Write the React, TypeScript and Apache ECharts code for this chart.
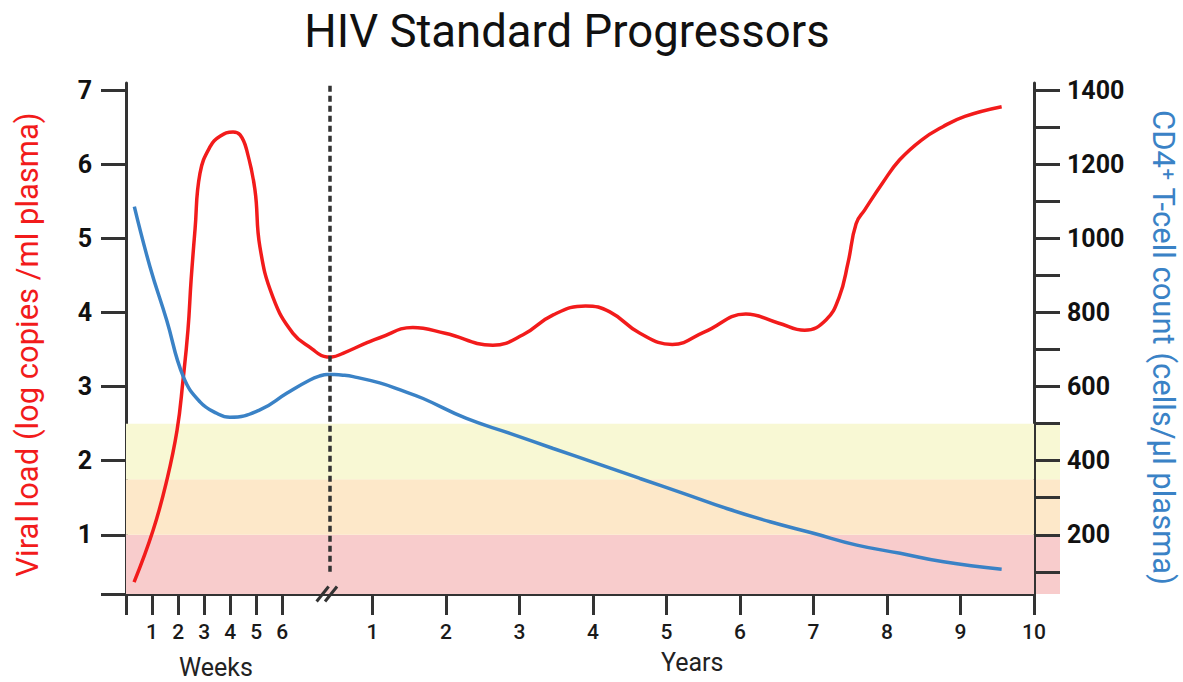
import React, { useEffect, useRef } from "react";
import * as echarts from "echarts";

// ---- texts ----
const TITLE = "HIV Standard Progressors";
const LEFT_NAME = "Viral load (log copies /ml plasma)";
const RIGHT_NAME = "CD4\u207A T-cell count (cells/\u00B5l plasma)";
const WEEKS_NAME = "Weeks";
const YEARS_NAME = "Years";

// ---- ticks ----
const weekTicks = [0, 1, 2, 3, 4, 5, 6];
const weekLabels = [1, 2, 3, 4, 5, 6];
const yearTicks = [1, 2, 3, 4, 5, 6, 7, 8, 9, 10];
const viralTicks = [0.2, 1, 2, 3, 4, 5, 6, 7];
const viralLabels = [1, 2, 3, 4, 5, 6, 7];
const cd4Ticks = [100, 200, 300, 400, 500, 600, 700, 800, 900, 1000, 1100, 1200, 1300, 1400];
const cd4Labels = [200, 400, 600, 800, 1000, 1200, 1400];

// ---- axis domains ----
const VIRAL_MIN = 0.2;
const VIRAL_MAX = 7.1;
const CD4_MIN = 40;
const CD4_MAX = 1420;
const WEEK_MIN = 0;
const WEEK_MAX = 34.86;
const YEAR_MIN = -2.351;
const YEAR_MAX = 10;

// transition (acute -> chronic), in weeks
const TRANSITION_WEEK = 7.81;
const BREAK_WEEK = 7.71;

// ---- viral load (log copies/ml), weeks part: [week, value] ----
const viralWeeks: [number, number][] = [
  [0.31, 0.36], [1.04, 1.06], [1.57, 1.74], [1.96, 2.41], [2.19, 3.09],
  [2.38, 3.77], [2.5, 4.44], [2.65, 5.12], [2.84, 5.88], [3.23, 6.24],
  [3.61, 6.38], [4.11, 6.44], [4.38, 6.4], [4.63, 6.2], [4.95, 5.66],
  [5.14, 4.89], [5.64, 4.21], [6.41, 3.72], [7.18, 3.5], [7.5, 3.42],
  [7.72, 3.401], [7.83, 3.4],
];
// viral load, years part: [year, value]
const viralYears: [number, number][] = [
  [0.424, 3.4], [0.45, 3.401], [0.6, 3.45], [0.92, 3.59], [1.1, 3.66],
  [1.55, 3.8], [1.99, 3.72], [2.64, 3.56], [3.05, 3.7], [3.46, 3.97], [3.9, 4.09],
  [4.23, 4.01], [4.64, 3.72], [5.08, 3.57], [5.52, 3.74], [6.08, 3.98], [6.52, 3.86],
  [6.88, 3.76], [7.17, 3.9], [7.35, 4.21], [7.47, 4.67], [7.58, 5.2],
  [7.7, 5.39], [7.94, 5.75], [8.17, 6.06], [8.47, 6.33], [8.76, 6.51],
  [9.06, 6.65], [9.56, 6.78],
];
// CD4 count (cells/µl), weeks part
const cd4Weeks: [number, number][] = [
  [0.32, 1086], [0.92, 924], [1.56, 780], [2.2, 627], [2.84, 559],
  [3.48, 528], [3.99, 517], [5.14, 537], [6.17, 582], [7.06, 618], [7.5, 630],
  [7.72, 632.9], [7.83, 633],
];
// CD4 count, years part
const cd4Years: [number, number][] = [
  [0.424, 633], [0.45, 632.9], [0.6, 631], [0.74, 627], [1.1, 610],
  [1.38, 591], [1.69, 568], [2.28, 514], [2.87, 474], [3.46, 433], [4.05, 393],
  [4.64, 352], [5.23, 312], [5.82, 271], [6.41, 235], [7.0, 204], [7.59, 172],
  [8.18, 150], [8.77, 127], [9.56, 107],
];

// risk bands (viral-load axis units)
const bandFrom = [VIRAL_MIN, 1, 1.75];
const bandTo = [1, 1.75, 2.5];
const bandColors = ["#f8cccc", "#fde8c9", "#f8f8d4"];

const RED = "#f21b1b";
const BLUE = "#3a82c6";
const AXIS = "#333333";
const FONT = "Roboto";

export default function App() {
  const ref = useRef<HTMLDivElement>(null);

  useEffect(() => {
    document.body.style.margin = "0";
    if (!ref.current) return;
    const chart = echarts.init(ref.current, undefined, { renderer: "svg" });

    const yLabelStyle = {
      fontFamily: FONT,
      fontSize: 25,
      fontWeight: "bold" as const,
      color: "#111",
      formatter: (v: number) => String(v),
    };
    const xLabelStyle = {
      fontFamily: FONT,
      fontSize: 21,
      fontWeight: 500,
      color: "#1a1a1a",
      formatter: (v: number) => String(v),
    };
    const lineSeries = (name: string, xi: number, yi: number, data: [number, number][], color: string) => ({
      type: "line",
      name,
      xAxisIndex: xi,
      yAxisIndex: yi,
      data,
      smooth: 0.45,
      showSymbol: false,
      lineStyle: { color, width: 3.5 },
      z: 3,
    });

    const option: any = {
      animation: false,
      backgroundColor: "#ffffff",
      grid: {
        left: 126,
        right: 149,
        top: 83,
        bottom: 88,
        containLabel: false,
        outerBoundsMode: "none",
      },
      xAxis: [
        {
          type: "value",
          min: WEEK_MIN,
          max: WEEK_MAX,
          position: "bottom",
          splitLine: { show: false },
          axisLine: { show: true, onZero: false, lineStyle: { color: AXIS, width: 3 } },
          axisTick: {
            show: true,
            length: 21,
            customValues: weekTicks,
            lineStyle: { color: AXIS, width: 3 },
          },
          axisLabel: { show: true, margin: 27, customValues: weekLabels, ...xLabelStyle },
        },
        {
          type: "value",
          min: YEAR_MIN,
          max: YEAR_MAX,
          position: "bottom",
          splitLine: { show: false },
          axisLine: { show: false, onZero: false },
          axisTick: {
            show: true,
            length: 21,
            customValues: yearTicks,
            lineStyle: { color: AXIS, width: 3 },
          },
          axisLabel: { show: true, margin: 27, customValues: yearTicks, ...xLabelStyle },
        },
      ],
      yAxis: [
        {
          type: "value",
          min: VIRAL_MIN,
          max: VIRAL_MAX,
          position: "left",
          name: LEFT_NAME,
          nameLocation: "middle",
          nameRotate: 90,
          nameGap: 83,
          nameTextStyle: { fontFamily: FONT, fontSize: 31, color: RED, padding: [0, 12, 0, 0] },
          splitLine: { show: false },
          axisLine: { show: true, onZero: false, lineStyle: { color: AXIS, width: 3 } },
          axisTick: {
            show: true,
            length: 25,
            customValues: viralTicks,
            lineStyle: { color: AXIS, width: 3 },
          },
          axisLabel: { show: true, margin: 34, customValues: viralLabels, ...yLabelStyle },
        },
        {
          type: "value",
          min: CD4_MIN,
          max: CD4_MAX,
          position: "right",
          name: RIGHT_NAME,
          nameLocation: "middle",
          nameRotate: -90,
          nameGap: 114,
          nameTextStyle: { fontFamily: FONT, fontSize: 31, color: BLUE, padding: [0, 0, 0, 18] },
          splitLine: { show: false },
          axisLine: { show: true, onZero: false, lineStyle: { color: AXIS, width: 3 } },
          axisTick: {
            show: true,
            length: 26,
            customValues: cd4Ticks,
            lineStyle: { color: AXIS, width: 3 },
          },
          axisLabel: { show: true, margin: 33, customValues: cd4Labels, ...yLabelStyle },
        },
      ],
      series: [
        {
          type: "line",
          name: "bands",
          xAxisIndex: 0,
          yAxisIndex: 0,
          data: [],
          z: 1,
          silent: true,
          markArea: {
            silent: true,
            data: bandFrom.map((f, i) => [
              { yAxis: f, itemStyle: { color: bandColors[i], opacity: 1 } },
              { yAxis: bandTo[i] },
            ]),
          },
          markLine: {
            silent: true,
            symbol: ["none", "none"],
            label: { show: false },
            lineStyle: { color: AXIS, width: 3.5, type: [6, 4] },
            data: [[{ coord: [TRANSITION_WEEK, 0.5] }, { coord: [TRANSITION_WEEK, 7.07] }]],
          },
        },
        lineSeries("Viral load (weeks)", 0, 0, viralWeeks, RED),
        lineSeries("Viral load (years)", 1, 0, viralYears, RED),
        lineSeries("CD4 (weeks)", 0, 1, cd4Weeks, BLUE),
        lineSeries("CD4 (years)", 1, 1, cd4Years, BLUE),
      ],
    };

    chart.setOption(option);

    // decorations computed through the axes
    const px = (wk: number, v: number) =>
      chart.convertToPixel({ seriesIndex: 1 }, [wk, v]) as number[];
    const graphics: any[] = [];
    // band extensions beyond the right axis (under its ticks)
    bandFrom.forEach((f, i) => {
      const top = px(WEEK_MAX, bandTo[i]);
      const bot = px(WEEK_MAX, f);
      graphics.push({
        type: "rect",
        z: -1,
        silent: true,
        shape: { x: top[0], y: top[1], width: 26, height: bot[1] - top[1] },
        style: { fill: bandColors[i] },
      });
    });
    // axis break marks "//"
    const bp = px(BREAK_WEEK, VIRAL_MIN);
    [-4.2, 4.2].forEach((dx) => {
      graphics.push({
        type: "line",
        z: 10,
        silent: true,
        shape: { x1: bp[0] + dx - 6, y1: bp[1] + 7.5, x2: bp[0] + dx + 6, y2: bp[1] - 7.5 },
        style: { stroke: AXIS, lineWidth: 3 },
      });
    });
    // title and x-axis group names
    graphics.push({
      type: "text",
      x: 567,
      y: 31,
      style: {
        text: TITLE,
        fontFamily: FONT,
        fontSize: 45.5,
        fill: "#111",
        align: "center",
        verticalAlign: "middle",
      },
    });
    const wk = px(3.45, VIRAL_MIN);
    graphics.push({
      type: "text",
      x: wk[0],
      y: 667,
      style: {
        text: WEEKS_NAME,
        fontFamily: FONT,
        fontSize: 25,
        fill: "#222",
        align: "center",
        verticalAlign: "middle",
      },
    });
    const yr = chart.convertToPixel({ seriesIndex: 2 }, [5.35, VIRAL_MIN]) as number[];
    graphics.push({
      type: "text",
      x: yr[0],
      y: 662,
      style: {
        text: YEARS_NAME,
        fontFamily: FONT,
        fontSize: 25,
        fill: "#222",
        align: "center",
        verticalAlign: "middle",
      },
    });
    chart.setOption({ graphic: graphics });

    return () => {
      chart.dispose();
    };
  }, []);

  return <div ref={ref} style={{ width: 1183, height: 682 }} />;
}
